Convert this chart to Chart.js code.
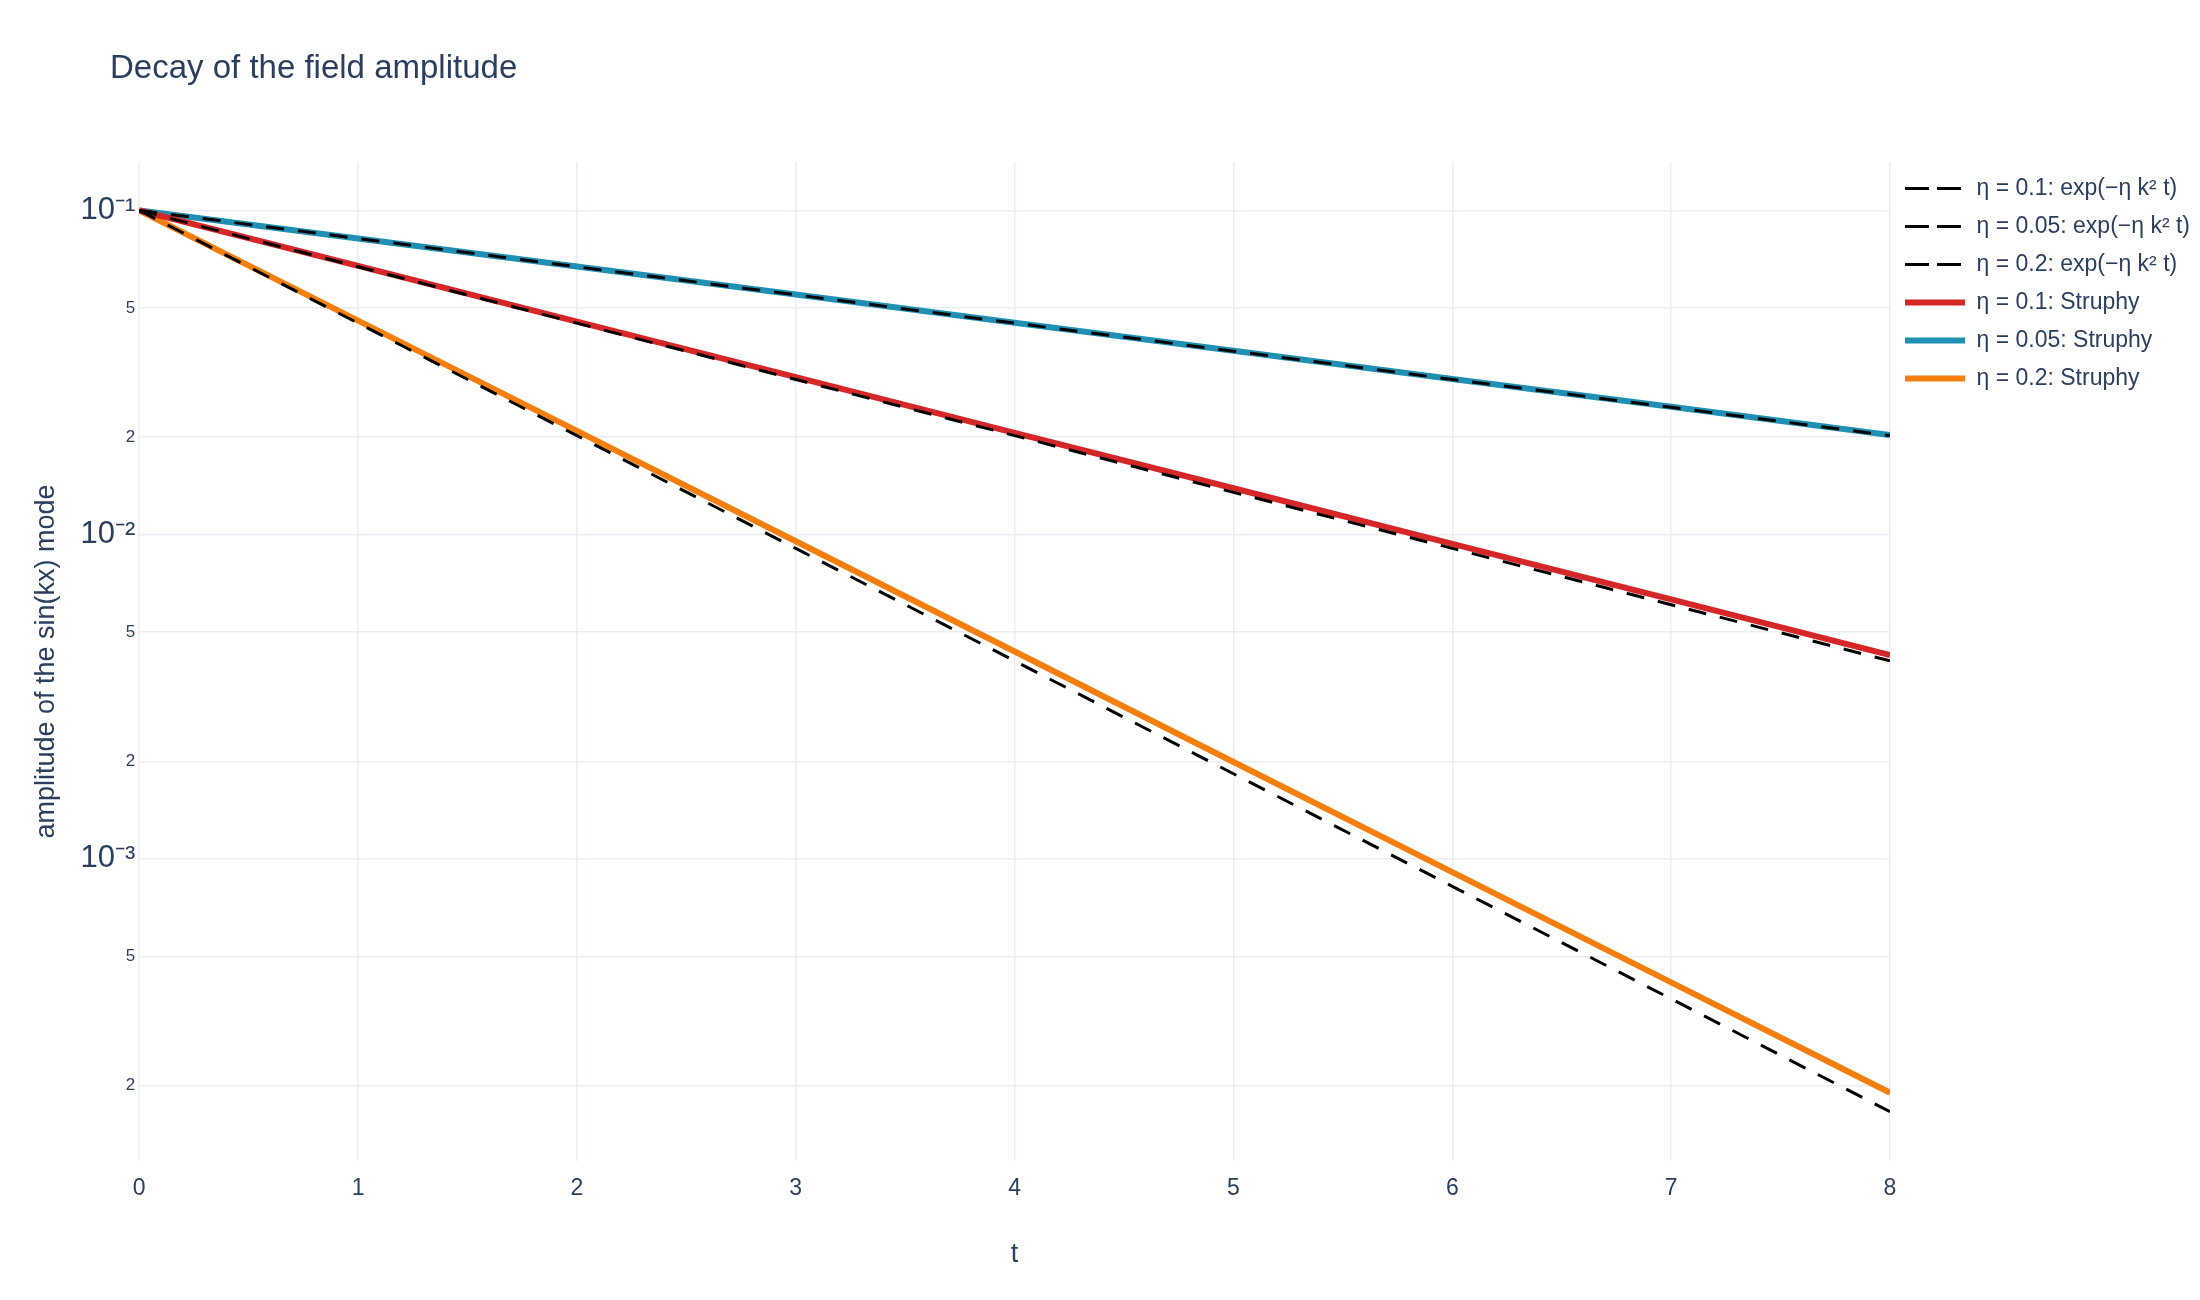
<!DOCTYPE html>
<html><head><meta charset="utf-8">
<script src="https://cdn.jsdelivr.net/npm/chart.js@4"></script>
<style>html,body{margin:0;padding:0;background:#fff}#w{width:2200px;height:1300px}</style>
</head><body><div id="w"><canvas id="c"></canvas></div>
<script>
const tValues = [0,1,2,3,4,5,6,7,8];
const red_struphy = [0.1,0.0674,0.0454,0.0306,0.0206,0.0139,0.00936,0.00631,0.00425];
const red_exact   = [0.1,0.0670,0.0449,0.0301,0.0202,0.0135,0.00907,0.00608,0.00408];
const blue_struphy= [0.1,0.0819,0.0671,0.0550,0.0450,0.0369,0.0302,0.0248,0.0203];
const blue_exact  = [0.1,0.0819,0.0670,0.0549,0.0449,0.0368,0.0301,0.0247,0.0202];
const orange_struphy=[0.1,0.0457,0.0209,0.00954,0.00436,0.00199,0.00091,0.000416,0.00019];
const orange_exact= [0.1,0.0449,0.0202,0.00907,0.00408,0.00183,0.000823,0.00037,0.000166];
const yTicks = [2e-4,5e-4,1e-3,2e-3,5e-3,1e-2,2e-2,5e-2,1e-1];
const majorLabels = {"0.001":"10⁻³","0.01":"10⁻²","0.1":"10⁻¹"};
const labels = ["η = 0.1: Struphy","η = 0.1: exp(−η k² t)","η = 0.05: Struphy","η = 0.05: exp(−η k² t)","η = 0.2: Struphy","η = 0.2: exp(−η k² t)"];

const pts = a => a.map((v,i)=>({x:tValues[i],y:v}));
function ds(label,data,color,dash,w,order){return {label,data:pts(data),borderColor:color,backgroundColor:color,borderWidth:w,borderDash:dash,pointRadius:0,fill:false,tension:0,order};}
const font = "'Liberation Sans', Arial, sans-serif";
const titlePlugin={id:'tp',afterDraw(ch){const c=ch.ctx;c.save();c.font="33px "+font;c.fillStyle="#2a3f5f";c.textBaseline="middle";c.fillText("Decay of the field amplitude",110,69);c.restore();}};
new Chart(document.getElementById('c'),{
 type:'line',
 data:{datasets:[
  ds(labels[0],red_struphy,'#d62728',[],6,1),
  ds(labels[1],red_exact,'#000000',[18,14],3,0),
  ds(labels[2],blue_struphy,'#1f8fb4',[],6,1),
  ds(labels[3],blue_exact,'#000000',[18,14],3,0),
  ds(labels[4],orange_struphy,'#f57f0e',[],6,1),
  ds(labels[5],orange_exact,'#000000',[18,14],3,0)
 ]},
 plugins:[titlePlugin],
 options:{responsive:true,maintainAspectRatio:false,animation:false,
  layout:{padding:{left:26,top:162,right:0,bottom:25}},
  plugins:{title:{display:false},tooltip:{enabled:false},
   legend:{position:'right',align:'start',labels:{usePointStyle:false,boxWidth:60,boxHeight:0,color:'#2a3f5f',font:{family:font,size:23},padding:15}}},
  scales:{
   x:{type:'linear',min:0,max:8,border:{display:false},grid:{color:'#ebedf5',lineWidth:1.5,drawTicks:false},
      ticks:{stepSize:1,color:'#2a3f5f',font:{family:font,size:23},padding:14},
      title:{display:true,text:'t',color:'#2a3f5f',font:{family:font,size:27},padding:{top:22}}},
   y:{type:'logarithmic',min:1.17e-4,max:0.141,border:{display:false},grid:{color:'#ebedf5',lineWidth:1.5,drawTicks:false},
      afterBuildTicks(s){s.ticks=yTicks.map(v=>({value:v}));},
      ticks:{color:'#2a3f5f',padding:4,autoSkip:false,
        font:(ctx)=>({family:font,size:(ctx.tick&&majorLabels[String(ctx.tick.value)])?31:17}),
        callback:(v)=>majorLabels[String(v)]||String(Math.round(v/Math.pow(10,Math.floor(Math.log10(v)+1e-9))))},
      title:{display:true,text:'amplitude of the sin(kx) mode',color:'#2a3f5f',font:{family:font,size:27},padding:{bottom:14}}}
  }}
});
</script></body></html>
